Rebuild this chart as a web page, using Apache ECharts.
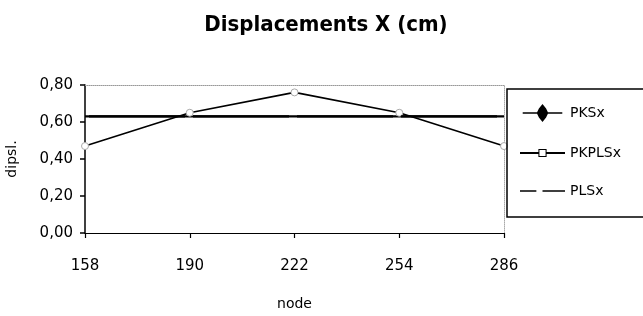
<!DOCTYPE html>
<html>
<head>
<meta charset="utf-8">
<script src="https://cdn.jsdelivr.net/npm/echarts@6/dist/echarts.min.js"></script>
<style>html,body{margin:0;padding:0;background:#fff}#c{width:643px;height:316px}</style>
</head>
<body>
<div id="c"></div>
<script>
var nodes = ['158', '190', '222', '254', '286'];
var PKSx = [0.63, 0.63, 0.63, 0.63, 0.63];
var PKPLSx = [0.47, 0.65, 0.76, 0.65, 0.47];
var PLSx = [0.63, 0.63, 0.63, 0.63, 0.63];
var yTicks = [0, 0.2, 0.4, 0.6, 0.8];

var chart = echarts.init(document.getElementById('c'), null, {renderer: 'canvas'});
var fontF = '"DejaVu Sans", sans-serif';
var fontT = '"DejaVu Sans Condensed", "DejaVu Sans", sans-serif';
var iconPKS = 'path://M0,9.3 L16,9.3 L18,5 L22,0 L26,5 L28,9.3 L44,9.3 L44,10.7 L28,10.7 L26,15 L22,20 L18,15 L16,10.7 L0,10.7 Z';
var iconPKPLS = 'path://M0,9 L18,9 L18,11 L0,11 Z M26,9 L44,9 L44,11 L26,11 Z M18,6 L18,14 L26,14 L26,6 Z M19,7 L25,7 L25,13 L19,13 Z';
var iconPLS = 'path://M0,9.3 L16,9.3 L16,10.7 L0,10.7 Z M22,9.3 L44,9.3 L44,10.7 L22,10.7 Z';

chart.setOption({
  animation: false,
  backgroundColor: '#fff',
  title: {
    text: 'Displacements X (cm)',
    left: 321, textAlign: 'center', top: 9,
    textStyle: {fontFamily: fontT, fontWeight: 'bold', fontSize: 22, color: '#000'}
  },
  legend: {
    orient: 'vertical',
    left: 507, top: 89,
    padding: [15, 200, 19, 13],
    itemGap: 24,
    itemWidth: 45, itemHeight: 18,
    borderColor: '#000', borderWidth: 1.5,
    textStyle: {fontFamily: fontF, fontSize: 14, color: '#000'},
    data: [
      {name: 'PKSx', icon: iconPKS, itemStyle: {color: '#000', borderWidth: 0}},
      {name: 'PKPLSx', icon: iconPKPLS, itemStyle: {color: '#000', borderWidth: 0}},
      {name: 'PLSx', icon: iconPLS, itemStyle: {color: '#000', borderWidth: 0}}
    ]
  },
  grid: {left: 85, right: 139, top: 85, bottom: 83, containLabel: false, outerBoundsMode: 'none'},
  xAxis: [{
    type: 'category', data: nodes, boundaryGap: false,
    name: 'node', nameLocation: 'middle', nameGap: 64,
    nameTextStyle: {fontFamily: fontF, fontSize: 14, color: '#000'},
    axisLine: {lineStyle: {color: '#000', width: 1.2}},
    axisTick: {alignWithLabel: true, length: 5, inside: false, lineStyle: {color: '#000', width: 1.2}},
    axisLabel: {fontFamily: fontF, fontSize: 15, color: '#000', margin: 26},
    splitLine: {show: false}
  }, {
    type: 'category', data: nodes, boundaryGap: false, position: 'top',
    axisLine: {onZero: false, lineStyle: {color: '#999', type: 'dotted', width: 1}},
    axisTick: {show: false}, axisLabel: {show: false}, splitLine: {show: false}
  }],
  yAxis: [{
    type: 'value', min: 0, max: 0.8, interval: 0.2,
    name: 'dipsl.', nameLocation: 'middle', nameGap: 66, nameRotate: 90,
    nameTextStyle: {fontFamily: fontF, fontSize: 14, color: '#000'},
    axisLine: {show: true, lineStyle: {color: '#000', width: 1.5}},
    axisTick: {show: true, length: 5, lineStyle: {color: '#000', width: 1.5}},
    axisLabel: {
      fontFamily: fontF, fontSize: 15, color: '#000', margin: 12,
      customValues: yTicks,
      formatter: function (v) { return v.toFixed(2).replace('.', ','); }
    },
    splitLine: {show: false}
  }, {
    type: 'value', min: 0, max: 0.8, interval: 0.2, position: 'right',
    axisLine: {show: true, onZero: false, lineStyle: {color: '#aaa', type: 'dotted', width: 1}},
    axisTick: {show: false}, axisLabel: {show: false}, splitLine: {show: false}
  }],
  series: [{
    name: 'PKSx', type: 'line', data: PKSx,
    symbol: 'none',
    lineStyle: {color: '#000', width: 2.2},
    itemStyle: {color: '#000'}, z: 2
  }, {
    name: 'PKPLSx', type: 'line', data: PKPLSx,
    symbol: 'circle', symbolSize: 7, showSymbol: true,
    lineStyle: {color: '#000', width: 1.6},
    itemStyle: {color: '#fff', borderColor: '#aaa', borderWidth: 1}, z: 3
  }, {
    name: 'PLSx', type: 'line', data: PLSx,
    symbol: 'none',
    lineStyle: {color: '#000', width: 2.2, type: [96, 8], dashOffset: -4},
    itemStyle: {color: '#000'}, z: 4
  }]
});
</script>
</body>
</html>
